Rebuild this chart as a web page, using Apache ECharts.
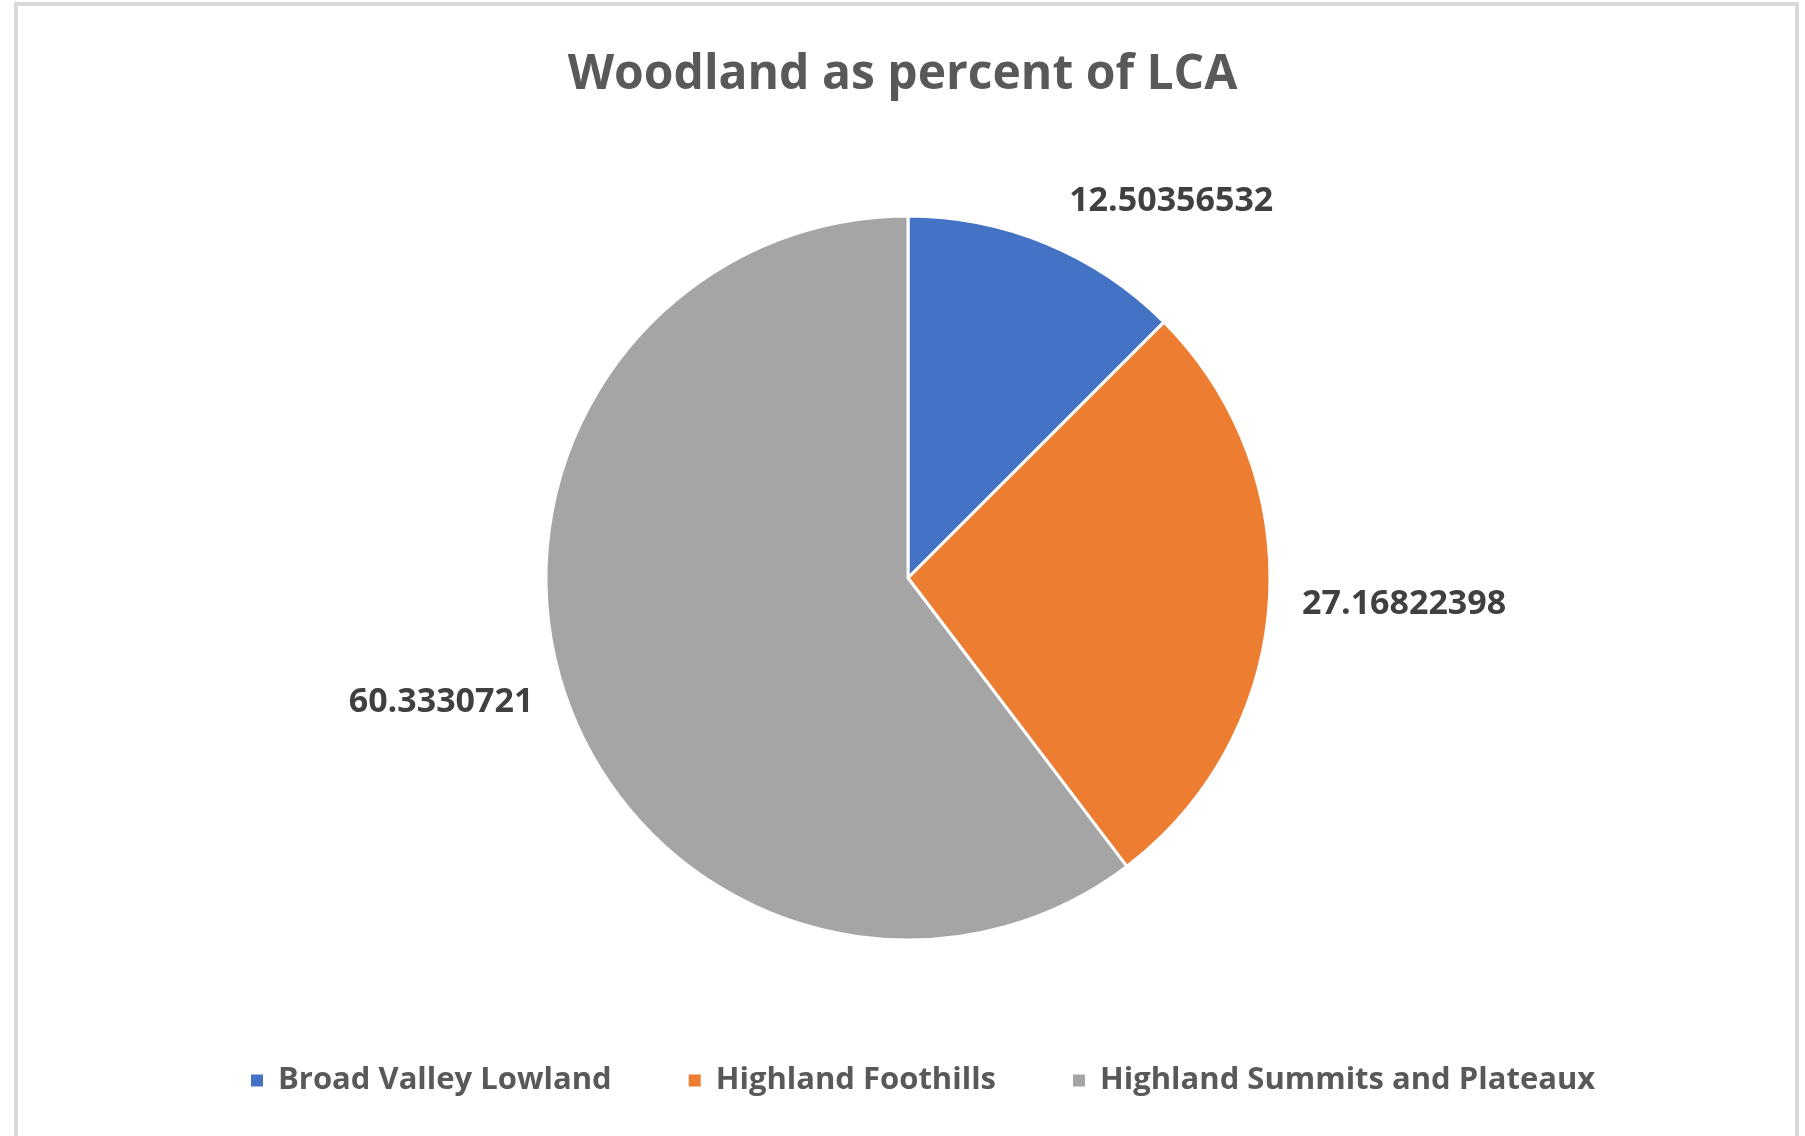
<!DOCTYPE html>
<html lang="en">
<head>
  <meta charset="UTF-8">
  <title>Woodland as percent of LCA</title>
  <style>
    html, body { margin: 0; padding: 0; background: #ffffff; }
    #chart { width: 1805px; height: 1136px; }
  </style>
</head>
<body>
  <div id="chart"></div>
  <script src="https://cdn.jsdelivr.net/npm/echarts@6/dist/echarts.min.js"></script>
  <script>
    var categories = ['Broad Valley Lowland', 'Highland Foothills', 'Highland Summits and Plateaux']
    var values = [12.50356532, 27.16822398, 60.3330721]
    var labels = ['12.50356532', '27.16822398', '60.3330721']
    var colors = ['#4472C4', '#ED7D31', '#A5A5A5']

    var chart = echarts.init(document.getElementById('chart'))

    // label distance from the pie edge, tuned per slice to sit like the excel one
    var labelLen = [46, 28, 28]

    var pieData = []
    for (var i = 0; i < categories.length; i++) {
      pieData.push({
        name: categories[i],
        value: values[i],
        label: { formatter: labels[i] },
        labelLine: { show: false, length: labelLen[i], length2: 0 },
        itemStyle: { color: colors[i] }
      })
    }

    var option = {
      animation: false,
      backgroundColor: '#ffffff',
      textStyle: { fontFamily: 'Open Sans' },
      graphic: [{
        type: 'rect',
        shape: { x: 16, y: 4, width: 1781, height: 1200 },
        style: { fill: 'none', stroke: '#d9d9d9', lineWidth: 4 },
        silent: true
      }],
      title: {
        text: 'Woodland as percent of LCA',
        left: 'center',
        top: 46,
        textStyle: { fontSize: 48, fontWeight: 'bold', color: '#595959', fontFamily: 'Open Sans' }
      },
      legend: {
        top: 1060,
        left: 244,
        itemWidth: 14,
        itemHeight: 14,
        itemGap: 75,
        icon: 'rect',
        textStyle: {
          fontSize: 31,
          fontWeight: 'bold',
          color: '#595959',
          fontFamily: 'Open Sans',
          padding: [0, 0, 0, 9]
        },
        data: categories
      },
      series: [{
        type: 'pie',
        center: [908, 578],
        radius: 362,
        startAngle: 90,
        clockwise: true,
        data: pieData,
        itemStyle: { borderColor: '#ffffff', borderWidth: 3 },
        label: {
          show: true,
          position: 'outside',
          fontSize: 34,
          fontWeight: 'bold',
          color: '#404040',
          fontFamily: 'Open Sans'
        },
        labelLine: { show: false },
        emphasis: { disabled: true }
      }]
    }
    chart.setOption(option)
  </script>
</body>
</html>
